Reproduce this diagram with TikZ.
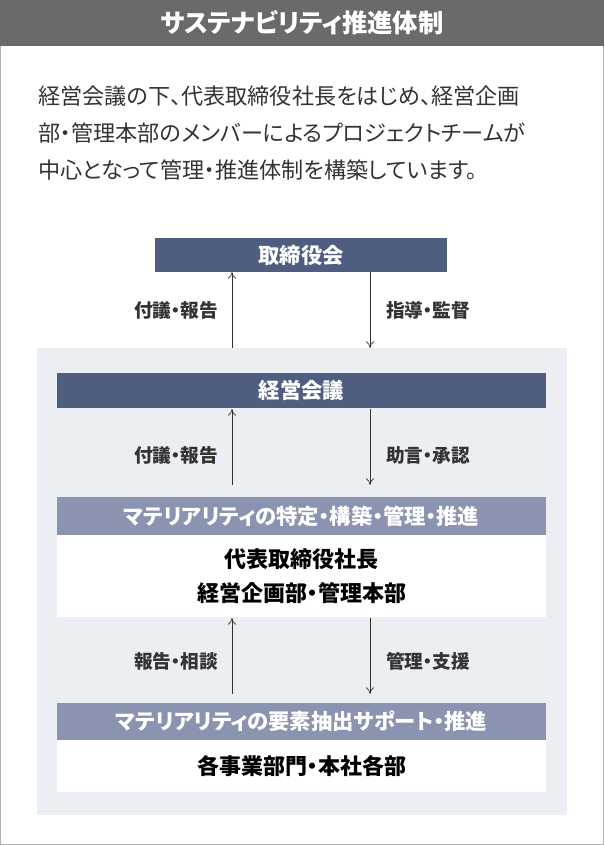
\documentclass[tikz,border=0pt]{standalone}
\usepackage{fontspec}
\setmainfont[RawFeature=+palt]{Noto Sans CJK JP}
\usetikzlibrary{arrows.meta}
\definecolor{navy}{HTML}{4F5E80}
\definecolor{lnavy}{HTML}{8A93B0}
\definecolor{panel}{HTML}{EBEEF3}
\definecolor{titlebg}{HTML}{6A6A6A}
\definecolor{txt}{HTML}{333333}
\tikzset{
  px/.style={x=0.75pt,y=-0.75pt},
  darkbox/.style={fill=navy,text=white,font=\fontsize{16}{18}\selectfont\bfseries,inner sep=0pt},
  headbox/.style={fill=lnavy,text=white,font=\fontsize{16}{18}\selectfont\bfseries,inner sep=0pt},
  whitebox/.style={fill=white,text=black,font=\fontsize{16.5}{25}\selectfont\bfseries,align=center,inner sep=0pt},
  lbl/.style={font=\fontsize{14}{16}\selectfont\bfseries,text=txt},
  arr/.style={-{To[length=5pt,width=6pt]},line width=0.5pt,draw=txt}
}
\begin{document}
\begin{tikzpicture}[px]
\useasboundingbox (0,0) rectangle (604,845);
\fill[white] (0,0) rectangle (604,845);
\draw[gray!60,line width=0.8pt] (0.5,0.5) rectangle (603.5,844.5);
\fill[titlebg] (0,0) rectangle (604,46);
\node[text=white,font=\fontsize{19}{22}\selectfont\bfseries] (title) at (302,23) {サステナビリティ推進体制};
\node[anchor=north west,text=txt,align=left,font=\fontsize{16.6}{27.5}\selectfont,inner sep=0pt] (body) at (38,86)
{経営会議の下、代表取締役社長をはじめ、経営企画\\部・管理本部のメンバーによるプロジェクトチームが\\中心となって管理・推進体制を構築しています。};
\fill[panel] (37,348) rectangle (567,815);
\path[darkbox] (155,238) rectangle (447,272);
\node[darkbox] (tor) at (301,255) {取締役会};
\path[darkbox] (57,373) rectangle (546,408);
\node[darkbox] (kei) at (301.5,390.5) {経営会議};
\path[headbox] (57,497) rectangle (546,535);
\node[headbox] (h1) at (301.5,516) {マテリアリティの特定・構築・管理・推進};
\fill[white] (57,535) rectangle (546,617);
\node[whitebox] (w1) at (301.5,576) {代表取締役社長\\経営企画部・管理本部};
\path[headbox] (57,703) rectangle (546,740);
\node[headbox] (h2) at (301.5,721.5) {マテリアリティの要素抽出サポート・推進};
\fill[white] (57,740) rectangle (546,792);
\node[whitebox] (w2) at (301.5,766) {各事業部門・本社各部};
\coordinate (a1) at (232,272); \coordinate (a1b) at (232,348);
\coordinate (b1) at (370,272); \coordinate (b1b) at (370,348);
\draw[arr] (a1b) -- (a1);
\draw[arr] (b1) -- (b1b);
\node[lbl] (l1) at (176,310) {付議・報告};
\node[lbl] (l2) at (428,310) {指導・監督};
\coordinate (a2) at (232,409); \coordinate (a2b) at (232,485);
\coordinate (b2) at (370,409); \coordinate (b2b) at (370,485);
\draw[arr] (a2b) -- (a2);
\draw[arr] (b2) -- (b2b);
\node[lbl] (l3) at (176,455) {付議・報告};
\node[lbl] (l4) at (428,455) {助言・承認};
\coordinate (a3) at (232,618); \coordinate (a3b) at (232,694);
\coordinate (b3) at (370,618); \coordinate (b3b) at (370,694);
\draw[arr] (a3b) -- (a3);
\draw[arr] (b3) -- (b3b);
\node[lbl] (l5) at (176,661) {報告・相談};
\node[lbl] (l6) at (428,661) {管理・支援};
\end{tikzpicture}
\end{document}
